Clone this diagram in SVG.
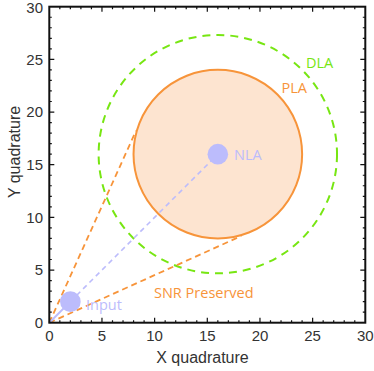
<svg xmlns="http://www.w3.org/2000/svg" width="374" height="371" viewBox="0 0 374 371">
<style>
.tick{stroke:#111;stroke-width:1.2;fill:none}
.tl{font-family:"Liberation Sans",Arial,sans-serif;font-size:15px;fill:#333}
.ax{font-family:"Liberation Sans",Arial,sans-serif;font-size:16px;fill:#333}
.lab{font-family:"Open Sans","Noto Sans",sans-serif;font-size:14.5px}
.or{stroke:#f7943a;stroke-width:1.8;stroke-dasharray:6 4;fill:none}
</style>
<rect width="374" height="371" fill="#fff"/>
<g id="dla">
<circle cx="217.83" cy="154.17" r="119.2" fill="none" stroke="#77e612" stroke-width="2" stroke-dasharray="8 6"/>
<text class="lab" x="306" y="68" fill="#77e612">DLA</text>
</g>
<g id="pla">
<circle cx="217.83" cy="154.17" r="84.3" fill="#fde4d0" stroke="#f7943a" stroke-width="2"/>
<text class="lab" x="281.5" y="93" fill="#f7943a">PLA</text>
</g>
<g id="connectors">
<line class="or" x1="49.3" y1="322.7" x2="136" y2="130.8"/>
<line class="or" x1="49.3" y1="322.7" x2="241.2" y2="236"/>
<line x1="49.3" y1="322.7" x2="70.37" y2="301.63" stroke="#bcbcfc" stroke-width="2"/>
<line x1="70.37" y1="301.63" x2="217.83" y2="154.17" stroke="#bcbcfc" stroke-width="1.6" stroke-dasharray="5 4"/>
</g>
<g id="nla">
<circle cx="217.83" cy="154.17" r="10.3" fill="#bcbcfc"/>
<text class="lab" x="234" y="160" fill="#bcbcfc">NLA</text>
</g>
<g id="input">
<circle cx="70.37" cy="301.63" r="10.3" fill="#bcbcfc"/>
<text class="lab" x="86" y="310" fill="#bcbcfc">Input</text>
</g>
<g id="snr">
<text class="lab" x="154" y="298" fill="#f7943a">SNR Preserved</text>
</g>
<g id="axes">
<rect x="49.3" y="6.7" width="316" height="316" fill="none" stroke="#111" stroke-width="2"/>
<path class="tick" d="M59.83,322.7v-2.5M70.37,322.7v-2.5M80.9,322.7v-2.5M91.43,322.7v-2.5M101.97,322.7v-5M112.5,322.7v-2.5M123.03,322.7v-2.5M133.57,322.7v-2.5M144.1,322.7v-2.5M154.63,322.7v-5M165.17,322.7v-2.5M175.7,322.7v-2.5M186.23,322.7v-2.5M196.77,322.7v-2.5M207.3,322.7v-5M217.83,322.7v-2.5M228.37,322.7v-2.5M238.9,322.7v-2.5M249.43,322.7v-2.5M259.97,322.7v-5M270.5,322.7v-2.5M281.03,322.7v-2.5M291.57,322.7v-2.5M302.1,322.7v-2.5M312.63,322.7v-5M323.17,322.7v-2.5M333.7,322.7v-2.5M344.23,322.7v-2.5M354.77,322.7v-2.5"/>
<path class="tick" d="M59.83,6.7v2.5M70.37,6.7v2.5M80.9,6.7v2.5M91.43,6.7v2.5M101.97,6.7v5M112.5,6.7v2.5M123.03,6.7v2.5M133.57,6.7v2.5M144.1,6.7v2.5M154.63,6.7v5M165.17,6.7v2.5M175.7,6.7v2.5M186.23,6.7v2.5M196.77,6.7v2.5M207.3,6.7v5M217.83,6.7v2.5M228.37,6.7v2.5M238.9,6.7v2.5M249.43,6.7v2.5M259.97,6.7v5M270.5,6.7v2.5M281.03,6.7v2.5M291.57,6.7v2.5M302.1,6.7v2.5M312.63,6.7v5M323.17,6.7v2.5M333.7,6.7v2.5M344.23,6.7v2.5M354.77,6.7v2.5"/>
<path class="tick" d="M49.3,312.17h2.5M49.3,301.63h2.5M49.3,291.1h2.5M49.3,280.57h2.5M49.3,270.03h5M49.3,259.5h2.5M49.3,248.97h2.5M49.3,238.43h2.5M49.3,227.9h2.5M49.3,217.37h5M49.3,206.83h2.5M49.3,196.3h2.5M49.3,185.77h2.5M49.3,175.23h2.5M49.3,164.7h5M49.3,154.17h2.5M49.3,143.63h2.5M49.3,133.1h2.5M49.3,122.57h2.5M49.3,112.03h5M49.3,101.5h2.5M49.3,90.97h2.5M49.3,80.43h2.5M49.3,69.9h2.5M49.3,59.37h5M49.3,48.83h2.5M49.3,38.3h2.5M49.3,27.77h2.5M49.3,17.23h2.5"/>
<path class="tick" d="M365.3,312.17h-2.5M365.3,301.63h-2.5M365.3,291.1h-2.5M365.3,280.57h-2.5M365.3,270.03h-5M365.3,259.5h-2.5M365.3,248.97h-2.5M365.3,238.43h-2.5M365.3,227.9h-2.5M365.3,217.37h-5M365.3,206.83h-2.5M365.3,196.3h-2.5M365.3,185.77h-2.5M365.3,175.23h-2.5M365.3,164.7h-5M365.3,154.17h-2.5M365.3,143.63h-2.5M365.3,133.1h-2.5M365.3,122.57h-2.5M365.3,112.03h-5M365.3,101.5h-2.5M365.3,90.97h-2.5M365.3,80.43h-2.5M365.3,69.9h-2.5M365.3,59.37h-5M365.3,48.83h-2.5M365.3,38.3h-2.5M365.3,27.77h-2.5M365.3,17.23h-2.5"/>
<g class="tl" text-anchor="middle">
<text x="49.3" y="341">0</text>
<text x="101.97" y="341">5</text>
<text x="154.63" y="341">10</text>
<text x="207.3" y="341">15</text>
<text x="259.97" y="341">20</text>
<text x="312.63" y="341">25</text>
<text x="365.3" y="341">30</text>
</g>
<g class="tl" text-anchor="end">
<text x="43" y="328">0</text>
<text x="43" y="275.3">5</text>
<text x="43" y="222.6">10</text>
<text x="43" y="170">15</text>
<text x="43" y="117.3">20</text>
<text x="43" y="64.6">25</text>
<text x="43" y="13.2">30</text>
</g>
<text class="ax" x="202.5" y="363" text-anchor="middle">X quadrature</text>
<text class="ax" transform="translate(20,152) rotate(-90)" text-anchor="middle">Y quadrature</text>
</g>
</svg>
